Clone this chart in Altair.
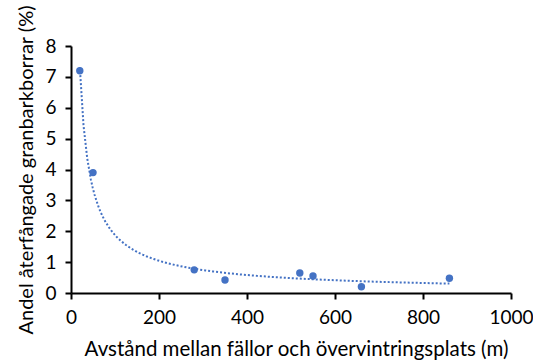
import altair as alt
import pandas as pd

distance = [20, 50, 280, 350, 520, 550, 660, 860]
share = [7.2, 3.9, 0.75, 0.42, 0.65, 0.55, 0.2, 0.48]

df = pd.DataFrame({"x": distance, "y": share})
BLUE = "#4472C4"
FONT = "Lato"

xenc = alt.X("x:Q", scale=alt.Scale(domain=[0, 1000], nice=False),
             axis=alt.Axis(values=[0, 200, 400, 600, 800, 1000], grid=False, format="d",
                           title="Avstånd mellan fällor och övervintringsplats (m)",
                           domainColor="black", domainWidth=2, tickColor="black",
                           tickWidth=2, tickSize=6, labelFontSize=19, labelColor="black",
                           labelPadding=9, titleFontSize=20.5, titleFontWeight="normal",
                           titleColor="black", titlePadding=12, labelFont=FONT, titleFont=FONT,
                           titleX=225, titleAlign="center",
                           labelFlush=False, labelOverlap=False))
yenc = alt.Y("y:Q", scale=alt.Scale(domain=[0, 8], nice=False),
             axis=alt.Axis(values=[0, 1, 2, 3, 4, 5, 6, 7, 8], grid=False, format="d",
                           title="Andel återfångade granbarkborrar (%)",
                           domainColor="black", domainWidth=2, tickColor="black",
                           tickWidth=2, tickSize=6, labelFontSize=19, labelColor="black",
                           labelPadding=9, titleFontSize=20, titleFontWeight="normal",
                           titleColor="black", titlePadding=8, labelFont=FONT, titleFont=FONT,
                           labelFlush=False, labelOverlap=False))

base = alt.Chart(df)
points = base.mark_circle(size=55, color=BLUE, opacity=1).encode(x=xenc, y=yenc)
trend = base.transform_regression("x", "y", method="pow", extent=[20, 860]).mark_line(
    color=BLUE, strokeDash=[2, 2], strokeWidth=2
).encode(x=xenc, y=yenc)

chart = alt.layer(trend, points).properties(
    width=440, height=247, autosize="none",
    padding={"left": 71, "top": 46, "right": 22, "bottom": 70},
    background="white"
).configure_view(stroke=None)

chart.save("out.html", embed_options={"renderer": "svg", "actions": False})
